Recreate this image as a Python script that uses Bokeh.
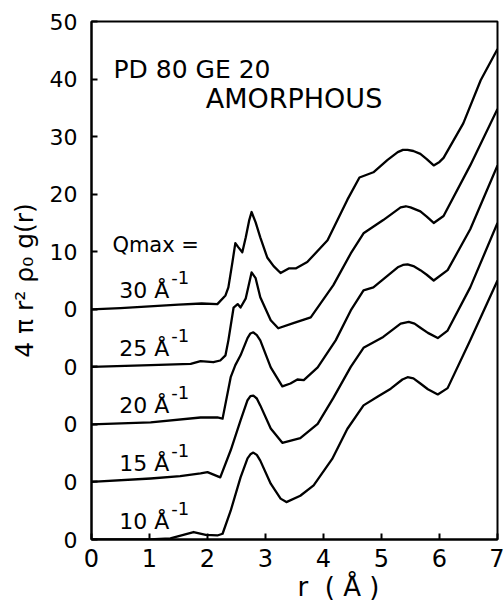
import math
from bokeh.plotting import figure
from bokeh.models import Range1d, Label, FixedTicker, Title
from bokeh.embed import file_html
from bokeh.resources import INLINE

# ---- data: r (Å) and 4πr²ρ0 g(r) relative to each curve's own zero ----
r_q30 = [0, 0.5, 1.0, 1.5, 1.9, 2.17, 2.31, 2.36, 2.43, 2.48, 2.53, 2.60, 2.66, 2.72, 2.76, 2.83,
         2.91, 3.03, 3.14, 3.26, 3.40, 3.52, 3.72, 4.07, 4.41, 4.62, 4.86, 5.10, 5.28, 5.37, 5.45,
         5.55, 5.67, 5.78, 5.90, 6.00, 6.07, 6.41, 6.71, 7.0]
g_q30 = [0, 0.2, 0.5, 0.8, 1.0, 0.9, 2.4, 3.8, 8.2, 11.5, 10.8, 9.9, 12.5, 15.5, 16.9, 15.1,
         12.5, 9.0, 7.5, 6.3, 7.1, 7.1, 8.2, 12.0, 19.0, 22.9, 23.8, 25.9, 27.3, 27.7, 27.7,
         27.5, 27.0, 26.1, 25.0, 25.6, 26.3, 32.3, 39.8, 45.2]

r_q25 = [0, 1.02, 1.71, 1.88, 2.10, 2.22, 2.31, 2.36, 2.45, 2.52, 2.57, 2.66, 2.76, 2.83, 2.91,
         3.09, 3.22, 3.48, 3.78, 4.17, 4.47, 4.69, 5.03, 5.33, 5.42, 5.50, 5.67, 5.78, 5.90, 6.07,
         6.53, 7.0]
g_q25 = [0, 0.3, 0.5, 1.0, 0.8, 1.1, 2.0, 4.6, 10.3, 10.9, 10.3, 11.9, 16.4, 15.4, 12.1,
         8.1, 6.7, 7.6, 8.6, 14.2, 19.7, 23.2, 25.5, 27.7, 27.9, 27.7, 27.0, 26.1, 25.0, 26.2,
         35.0, 44.8]

r_q20 = [0, 1.02, 1.88, 2.17, 2.26, 2.40, 2.48, 2.57, 2.69, 2.74, 2.79, 2.85, 2.91, 3.09, 3.29,
         3.43, 3.55, 3.66, 3.90, 4.21, 4.47, 4.69, 4.86, 5.28, 5.37, 5.45, 5.55, 5.67, 5.78, 5.90,
         6.14, 6.53, 7.0]
g_q20 = [0, 0.35, 1.2, 1.2, 1.0, 8.2, 10.3, 12.0, 15.0, 15.8, 16.0, 15.5, 14.6, 9.9, 6.6,
         7.1, 7.8, 7.7, 9.9, 14.6, 19.8, 23.3, 23.8, 27.3, 27.7, 27.8, 27.5, 26.8, 26.0, 25.0,
         26.8, 33.9, 45.0]

r_q15 = [0, 1.02, 1.53, 1.88, 2.0, 2.22, 2.40, 2.57, 2.69, 2.74, 2.79, 2.85, 2.91, 3.09, 3.29,
         3.60, 3.90, 4.17, 4.47, 4.69, 5.03, 5.33, 5.47, 5.57, 5.67, 5.80, 5.97, 6.14, 6.53, 7.0]
g_q15 = [0, 0.6, 1.0, 1.5, 1.7, 0.8, 5.5, 10.7, 14.2, 14.9, 15.0, 14.5, 13.3, 9.3, 6.8,
         7.6, 10.1, 14.6, 20.0, 23.3, 25.2, 27.5, 27.8, 27.5, 26.8, 25.9, 25.0, 26.3, 33.8, 45.0]

r_q10 = [0, 1.0, 1.36, 1.76, 1.97, 2.17, 2.26, 2.40, 2.57, 2.69, 2.74, 2.79, 2.85, 2.91, 3.09,
         3.26, 3.36, 3.60, 3.83, 4.15, 4.41, 4.69, 4.93, 5.16, 5.36, 5.45, 5.55, 5.67, 5.80, 5.97,
         6.14, 6.53, 7.0]
g_q10 = [0, 0, 0.2, 1.3, 0.8, 0.7, 1.0, 5.0, 10.8, 14.1, 14.8, 15.1, 14.7, 13.7, 9.7,
         7.1, 6.5, 7.6, 9.4, 14.0, 19.2, 23.3, 24.8, 26.2, 27.8, 28.2, 28.0, 27.1, 26.1, 25.2,
         26.3, 34.6, 45.0]

qmax_labels = ["30", "25", "20", "15", "10"]
curve_shift = [0, -10, -20, -30, -40]          # each curve is drawn 10 units below the previous
y_ticks = [-40, -30, -20, -10, 0, 10, 20, 30, 40, 50]
y_tick_text = ["0", "0", "0", "0", "0", "10", "20", "30", "40", "50"]
x_ticks = [0, 1, 2, 3, 4, 5, 6, 7]

curves = [(r_q30, g_q30), (r_q25, g_q25), (r_q20, g_q20), (r_q15, g_q15), (r_q10, g_q10)]

FONT = "DejaVu Sans"
NB = "\u00a0"

p = figure(width=504, height=603, output_backend="svg", toolbar_location=None,
           x_range=Range1d(0, 7), y_range=Range1d(-40, 50),
           min_border_left=91, min_border_right=7, min_border_top=21, min_border_bottom=64)

p.grid.visible = False
p.outline_line_color = "black"
p.outline_line_width = 2
p.background_fill_color = "white"
p.border_fill_color = "white"

for ax in (p.xaxis[0], p.yaxis[0]):
    ax.axis_line_width = 2
    ax.axis_line_color = "black"
    ax.major_tick_line_width = 2
    ax.major_tick_in = 6
    ax.major_tick_out = 0
    ax.minor_tick_line_color = None
    ax.major_label_text_font = FONT
    ax.major_label_text_color = "black"

p.xaxis.ticker = FixedTicker(ticks=x_ticks)
p.xaxis.major_label_text_font_size = "24px"
p.xaxis.major_label_standoff = 9

p.yaxis.ticker = FixedTicker(ticks=y_ticks)
p.yaxis.major_label_overrides = {t: s for t, s in zip(y_ticks, y_tick_text)}
p.yaxis.major_label_text_font_size = "22px"
p.yaxis.major_label_standoff = 14
p.yaxis.axis_label = "4 π r² ρ₀ g(r)"
p.yaxis.axis_label_text_font = FONT
p.yaxis.axis_label_text_font_size = "25px"
p.yaxis.axis_label_text_font_style = "normal"
p.yaxis.axis_label_text_color = "black"
p.yaxis.axis_label_standoff = 8

for (rr, gg), sh in zip(curves, curve_shift):
    p.line(rr, [v + sh for v in gg], line_color="black", line_width=2.3, line_join="round")

# curve labels
for lab, sh in zip(qmax_labels, curve_shift):
    p.add_layout(Label(x=0.48, y=sh + 3.2, text=lab + " Å", text_font=FONT, text_font_size="22px",
                       text_color="black", text_baseline="alphabetic", text_align="left"))
    p.add_layout(Label(x=0.48, y=sh + 3.2, x_offset=52, y_offset=13, text="-1", text_font=FONT,
                       text_font_size="18px", text_color="black", text_baseline="alphabetic",
                       text_align="left"))

p.add_layout(Label(x=0.36, y=11.2, text="Qmax =", text_font=FONT, text_font_size="21px",
                   text_color="black", text_baseline="alphabetic"))
p.add_layout(Label(x=0.38, y=41.7, text="PD 80 GE 20", text_font=FONT, text_font_size="25px",
                   text_color="black", text_baseline="alphabetic"))
p.add_layout(Label(x=1.97, y=36.7, text="AMORPHOUS", text_font=FONT, text_font_size="27px",
                   text_color="black", text_baseline="alphabetic"))

# x-axis title, placed right of centre as in the original
p.add_layout(Title(text="r" + NB + NB + "(" + NB + "Å" + NB + ")", align="left", offset=206,
                   standoff=0, text_font=FONT, text_font_size="26px", text_font_style="normal",
                   text_color="black"), "below")

open("out.html", "w").write(file_html(p, INLINE))
